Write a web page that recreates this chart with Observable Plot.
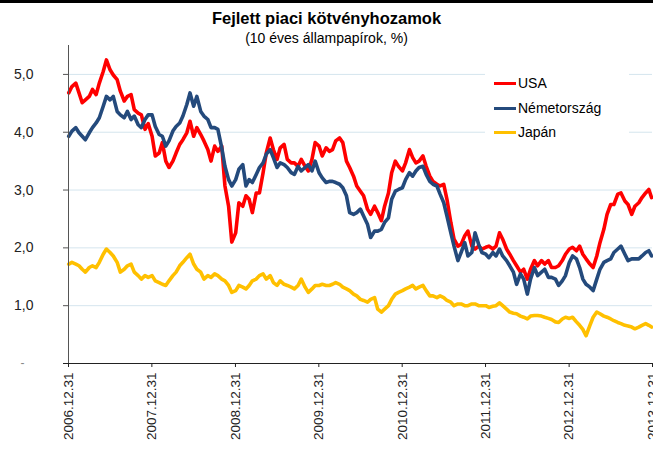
<!DOCTYPE html>
<html>
<head>
<meta charset="utf-8">
<script src="https://cdn.jsdelivr.net/npm/d3@7"></script>
<script src="https://cdn.jsdelivr.net/npm/@observablehq/plot@0.6"></script>
<style>
  body { margin: 0; background: #fff; font-family: "Liberation Sans", Arial, sans-serif; }
  #wrap { position: relative; width: 653px; height: 454px; overflow: hidden; background: #fff; }
  #topbar { position: absolute; left: 0; top: 0; width: 653px; height: 3px; background: #000; }
  #title { position: absolute; left: 0; width: 653px; text-align: center; top: 9px; font-weight: bold; font-size: 16.5px; color: #000; }
  #subtitle { position: absolute; left: 0; width: 653px; text-align: center; top: 30px; font-size: 14px; color: #000; }
  #chart { position: absolute; left: 0; top: 0; }
  #legend { position: absolute; left: 485px; top: 66px; width: 144px; height: 80px; background: #fff; }
  .item { position: absolute; left: 0; height: 20px; font-size: 14px; color: #000; }
  .sw { position: absolute; left: 9px; top: 9px; width: 22px; height: 3px; }
  .lab { position: absolute; left: 33px; top: 2px; white-space: nowrap; }
</style>
</head>
<body>
<div id="wrap">
  <div id="chart"></div>
  <div id="topbar"></div>
  <div id="title"></div>
  <div id="subtitle"></div>
  <div id="legend"></div>
</div>
<script>
const titleText = "Fejlett piaci kötvényhozamok";
const subtitleText = "(10 éves állampapírok, %)";
const seriesNames = ["USA", "Németország", "Japán"];
const seriesColors = ["#ff0000", "#244a7c", "#ffc000"];

const xTickDates = ["2006-12-31","2007-12-31","2008-12-31","2009-12-31","2010-12-31","2011-12-31","2012-12-31","2013-12-31"];
const xTickLabels = ["2006.12.31","2007.12.31","2008.12.31","2009.12.31","2010.12.31","2011.12.31","2012.12.31","2013.12.31"];
const yTicks = [1, 2, 3, 4, 5];
const yTickLabels = ["1,0", "2,0", "3,0", "4,0", "5,0"];
const yZeroLabel = "-";

const dates = [
"2007-01-01","2007-01-15","2007-02-01","2007-02-15","2007-03-01","2007-03-15","2007-04-01","2007-04-15","2007-05-01","2007-05-15","2007-06-01","2007-06-15","2007-07-01","2007-07-15","2007-08-01","2007-08-15","2007-09-01","2007-09-15","2007-10-01","2007-10-15","2007-11-01","2007-11-15","2007-12-01","2007-12-15",
"2008-01-01","2008-01-15","2008-02-01","2008-02-15","2008-03-01","2008-03-15","2008-04-01","2008-04-15","2008-05-01","2008-05-15","2008-06-01","2008-06-15","2008-07-01","2008-07-15","2008-08-01","2008-08-15","2008-09-01","2008-09-15","2008-10-01","2008-10-15","2008-11-01","2008-11-15","2008-12-01","2008-12-15",
"2009-01-01","2009-01-15","2009-02-01","2009-02-15","2009-03-01","2009-03-15","2009-04-01","2009-04-15","2009-05-01","2009-05-15","2009-06-01","2009-06-15","2009-07-01","2009-07-15","2009-08-01","2009-08-15","2009-09-01","2009-09-15","2009-10-01","2009-10-15","2009-11-01","2009-11-15","2009-12-01","2009-12-15",
"2010-01-01","2010-01-15","2010-02-01","2010-02-15","2010-03-01","2010-03-15","2010-04-01","2010-04-15","2010-05-01","2010-05-15","2010-06-01","2010-06-15","2010-07-01","2010-07-15","2010-08-01","2010-08-15","2010-09-01","2010-09-15","2010-10-01","2010-10-15","2010-11-01","2010-11-15","2010-12-01","2010-12-15",
"2011-01-01","2011-01-15","2011-02-01","2011-02-15","2011-03-01","2011-03-15","2011-04-01","2011-04-15","2011-05-01","2011-05-15","2011-06-01","2011-06-15","2011-07-01","2011-07-15","2011-08-01","2011-08-15","2011-09-01","2011-09-15","2011-10-01","2011-10-15","2011-11-01","2011-11-15","2011-12-01","2011-12-15",
"2012-01-01","2012-01-15","2012-02-01","2012-02-15","2012-03-01","2012-03-15","2012-04-01","2012-04-15","2012-05-01","2012-05-15","2012-06-01","2012-06-15","2012-07-01","2012-07-15","2012-08-01","2012-08-15","2012-09-01","2012-09-15","2012-10-01","2012-10-15","2012-11-01","2012-11-15","2012-12-01","2012-12-15",
"2013-01-01","2013-01-15","2013-02-01","2013-02-15","2013-03-01","2013-03-15","2013-04-01","2013-04-15","2013-05-01","2013-05-15","2013-06-01","2013-06-15","2013-07-01","2013-07-15","2013-08-01","2013-08-15","2013-09-01","2013-09-15","2013-10-01","2013-10-15","2013-11-01","2013-11-15","2013-12-01","2013-12-15",
"2013-12-27"
];

const usa = [
4.68,4.79,4.85,4.68,4.51,4.56,4.62,4.74,4.65,4.85,5.05,5.25,5.08,4.99,4.91,4.71,4.54,4.62,4.65,4.39,4.33,4.30,4.05,4.15,
3.93,3.59,3.64,3.82,3.50,3.39,3.50,3.64,3.79,3.87,3.99,4.19,3.93,4.08,3.96,3.85,3.70,3.50,3.76,3.67,3.76,3.07,2.72,2.10,
2.26,2.78,2.72,2.90,2.84,2.61,2.95,2.95,3.30,3.64,3.90,3.70,3.53,3.73,3.79,3.53,3.47,3.47,3.41,3.53,3.41,3.33,3.53,3.82,
3.76,3.59,3.73,3.67,3.70,3.85,3.90,3.82,3.50,3.39,3.24,3.07,2.98,2.90,2.67,2.58,2.72,2.61,2.47,2.72,2.95,3.30,3.50,3.41,
3.33,3.47,3.70,3.56,3.47,3.50,3.59,3.41,3.24,3.15,3.10,3.07,3.10,2.84,2.44,2.15,2.03,2.06,2.21,2.29,2.03,1.98,2.03,1.98,
2.01,2.03,1.98,2.03,2.26,2.15,1.98,1.89,1.78,1.69,1.58,1.63,1.46,1.63,1.78,1.69,1.78,1.72,1.78,1.66,1.66,1.69,1.78,1.89,
1.98,2.01,1.95,2.03,1.89,1.81,1.72,1.66,1.86,2.09,2.32,2.58,2.75,2.75,2.93,2.95,2.81,2.75,2.58,2.72,2.78,2.87,2.95,3.01,
2.87
];

const germany = [
3.93,4.02,4.08,3.99,3.93,3.87,3.99,4.08,4.16,4.25,4.45,4.62,4.56,4.62,4.36,4.30,4.25,4.36,4.22,4.28,4.13,4.08,4.22,4.30,
4.30,4.10,3.96,3.93,3.76,3.85,4.02,4.10,4.16,4.28,4.48,4.68,4.45,4.62,4.36,4.28,4.22,4.08,4.08,4.05,3.73,3.41,3.18,3.07,
3.18,3.36,3.44,3.07,3.18,3.13,3.27,3.39,3.47,3.62,3.70,3.56,3.39,3.47,3.44,3.39,3.30,3.27,3.41,3.33,3.39,3.44,3.33,3.50,
3.30,3.21,3.13,3.15,3.15,3.13,3.10,3.04,2.90,2.61,2.58,2.61,2.67,2.55,2.41,2.18,2.29,2.29,2.32,2.44,2.52,2.84,2.98,3.01,
3.04,3.18,3.30,3.24,3.33,3.39,3.41,3.27,3.15,3.10,3.07,2.93,2.78,2.55,2.26,2.03,1.78,1.92,2.09,1.86,1.92,2.26,2.06,1.92,
1.89,1.83,1.92,1.86,1.98,1.86,1.78,1.69,1.58,1.37,1.55,1.46,1.20,1.46,1.66,1.52,1.58,1.63,1.49,1.49,1.46,1.35,1.43,1.52,
1.75,1.86,1.81,1.66,1.46,1.37,1.32,1.26,1.46,1.63,1.75,1.78,1.81,1.92,1.98,2.03,1.89,1.78,1.81,1.81,1.81,1.86,1.92,1.95,
1.86
];

const japan = [
1.72,1.75,1.72,1.69,1.63,1.58,1.66,1.69,1.66,1.75,1.89,1.98,1.92,1.86,1.75,1.58,1.63,1.69,1.72,1.58,1.52,1.46,1.52,1.49,
1.52,1.43,1.40,1.37,1.35,1.43,1.52,1.58,1.69,1.75,1.83,1.89,1.72,1.63,1.58,1.46,1.52,1.49,1.55,1.52,1.46,1.43,1.35,1.23,
1.26,1.35,1.32,1.29,1.35,1.43,1.46,1.52,1.55,1.46,1.52,1.40,1.35,1.43,1.37,1.35,1.32,1.29,1.35,1.46,1.32,1.23,1.29,1.35,
1.35,1.37,1.35,1.35,1.37,1.40,1.37,1.32,1.29,1.26,1.20,1.17,1.11,1.09,1.06,1.11,1.14,0.94,0.89,0.94,1.00,1.11,1.20,1.23,
1.26,1.29,1.32,1.35,1.29,1.32,1.35,1.26,1.17,1.17,1.14,1.17,1.14,1.09,1.06,1.00,1.03,1.03,1.00,1.00,1.03,1.03,1.00,1.00,
1.00,0.97,0.99,1.00,1.05,1.00,0.94,0.89,0.87,0.86,0.82,0.80,0.77,0.82,0.83,0.83,0.82,0.80,0.78,0.76,0.72,0.71,0.77,0.80,
0.78,0.80,0.72,0.66,0.59,0.48,0.66,0.80,0.89,0.86,0.82,0.80,0.77,0.74,0.71,0.69,0.66,0.65,0.63,0.60,0.63,0.66,0.69,0.66,
0.63
];

const seriesValues = [usa, germany, japan];
const parse = d3.utcParse("%Y-%m-%d");
const rows = [];
seriesNames.forEach((name, s) => {
  seriesValues[s].forEach((v, i) => rows.push({date: parse(dates[i]), value: v, series: name}));
});

document.getElementById("title").textContent = titleText;
document.getElementById("subtitle").textContent = subtitleText;

const font = "'Liberation Sans', Arial, sans-serif";
const chart = Plot.plot({
  width: 653,
  height: 454,
  marginTop: 45,
  marginBottom: 91,
  marginLeft: 68,
  marginRight: 1,
  style: {fontFamily: font, fontSize: "14px", color: "#222", background: "transparent"},
  x: {type: "utc", domain: [parse(xTickDates[0]), parse(xTickDates[xTickDates.length - 1])]},
  y: {domain: [0, 5.5]},
  color: {domain: seriesNames, range: seriesColors},
  marks: [
    Plot.ruleY(yTicks, {stroke: "#d5e5ee", strokeWidth: 1}),
    Plot.line(rows.filter(d => d.series === "Japán"), {x: "date", y: "value", stroke: "series", strokeWidth: 3.6, strokeLinejoin: "round"}),
    Plot.line(rows.filter(d => d.series === "USA"), {x: "date", y: "value", stroke: "series", strokeWidth: 3.6, strokeLinejoin: "round"}),
    Plot.line(rows.filter(d => d.series === "Németország"), {x: "date", y: "value", stroke: "series", strokeWidth: 3.6, strokeLinejoin: "round"}),
    Plot.axisY(yTicks, {tickSize: 5, tickPadding: 30, tickFormat: (d, i) => yTickLabels[i], stroke: "#555", fill: "#222", fontSize: 14, label: null}),
    Plot.axisY([0], {tickSize: 0, tickPadding: 44, tickFormat: () => yZeroLabel, fill: "#888", fontSize: 12, label: null}),
    Plot.ruleX([parse(xTickDates[0])], {stroke: "#555", strokeWidth: 1}),
    Plot.ruleY([0], {stroke: "#222", strokeWidth: 1, insetLeft: -5}),
    Plot.axisX(xTickDates.map(parse), {tickSize: 4, tickPadding: 5, tickRotate: -90, tickFormat: (d, i) => xTickLabels[i], stroke: "#222", fill: "#222", fontSize: 13.5, label: null})
  ]
});
document.getElementById("chart").appendChild(chart);

const legend = document.getElementById("legend");
seriesNames.forEach((name, i) => {
  const item = document.createElement("div");
  item.className = "item";
  item.style.top = (7 + i * 24.5) + "px";
  const sw = document.createElement("div");
  sw.className = "sw";
  sw.style.background = seriesColors[i];
  const lab = document.createElement("div");
  lab.className = "lab";
  lab.textContent = name;
  item.appendChild(sw);
  item.appendChild(lab);
  legend.appendChild(item);
});
</script>
</body>
</html>
